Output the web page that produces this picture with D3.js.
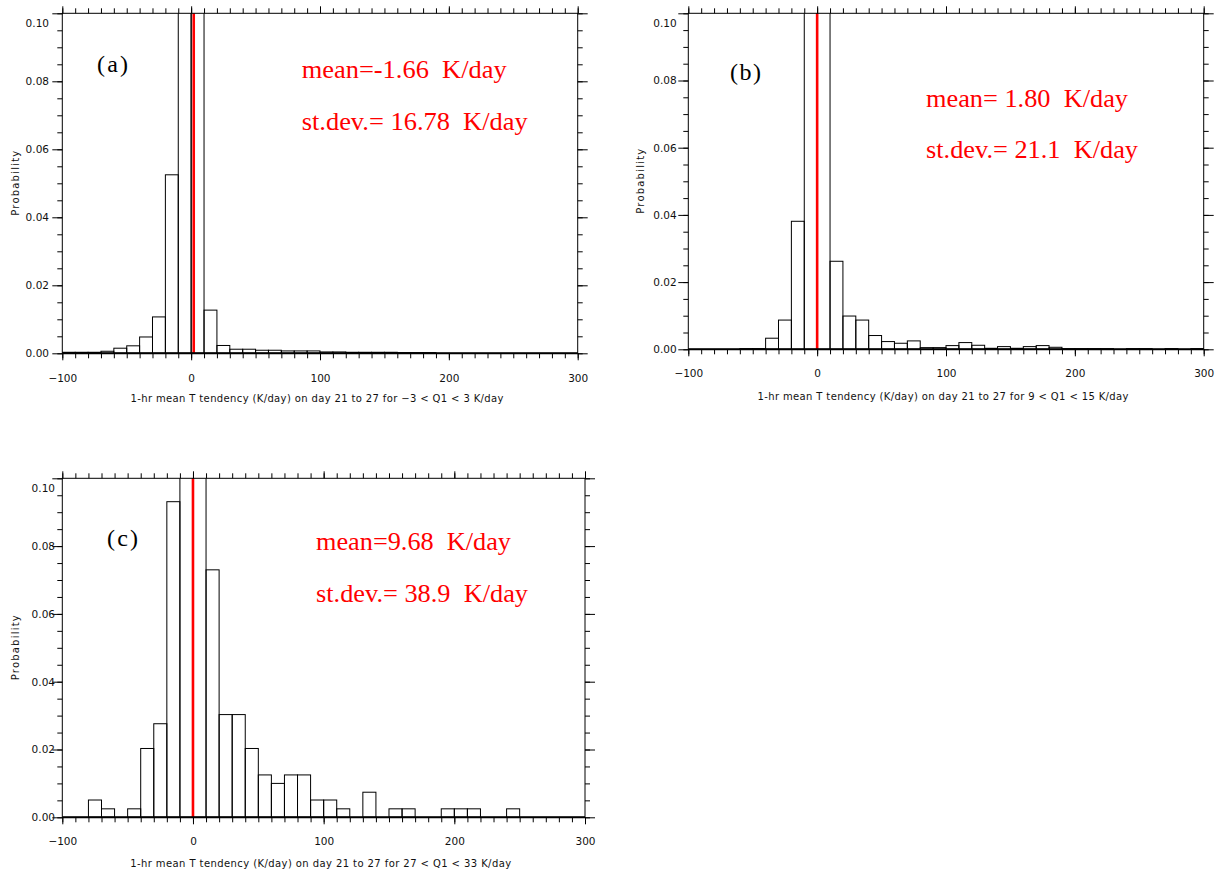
<!DOCTYPE html>
<html lang="en">
<head>
<meta charset="UTF-8">
<title>1-hr mean T tendency histograms</title>
<script src="https://d3js.org/d3.v7.min.js"></script>
<style>
    body { margin: 0; background: #fff; }
    svg { display: block; }
</style>
</head>
<body>
<div class="chart"></div>
<script>
// lower edge of each 10 K/day bin
const binStart = [-100,-90,-80,-70,-60,-50,-40,-30,-20,-10,0,10,20,30,40,50,60,70,80,90,
                  100,110,120,130,140,150,160,170,180,190,200,210,220,230,240,250,260,270,280,290];
// probabilities (the two central bins are off the top of each panel)
const probA = [0.0003,0.0003,0.0003,0.0006,0.0015,0.0022,0.0048,0.0107,0.0525,0.47,
               0.43,0.0127,0.0023,0.0012,0.0012,0.0009,0.0009,0.0007,0.0007,0.0007,
               0.0004,0.0004,0.0003,0.0003,0.0003,0.0003,0.0002,0.0002,0.0002,0,
               0,0,0,0,0,0,0,0,0,0];
const probB = [0,0,0,0,0.0002,0.0002,0.0033,0.0087,0.0381,0.44,
               0.45,0.0262,0.0099,0.0087,0.0041,0.0023,0.0018,0.0025,0.0005,0.0005,
               0.0011,0.0020,0.0012,0.0003,0.0008,0.0003,0.0008,0.0011,0.0006,0.0002,
               0.0002,0.0002,0.0002,0,0.0002,0.0002,0,0.0002,0,0.0002];
const probC = [0,0,0.0051,0.0025,0,0.0025,0.0203,0.0276,0.0931,0.31,
               0.30,0.0730,0.0303,0.0303,0.0203,0.0125,0.0100,0.0125,0.0125,0.0051,
               0.0051,0.0025,0,0.0074,0,0.0025,0.0025,0,0,0.0025,
               0.0025,0.0025,0,0,0.0025,0,0,0,0,0];
const xTicks = [-100,0,100,200,300];
const yTicks = [0,0.02,0.04,0.06,0.08,0.10];
const tags = ['(a)','(b)','(c)'];
const meanTxt = ['mean=-1.66  K/day','mean= 1.80  K/day','mean=9.68  K/day'];
const sdTxt = ['st.dev.= 16.78  K/day','st.dev.= 21.1  K/day','st.dev.= 38.9  K/day'];
const q1Range = ['\u22123 < Q1 < 3','9 < Q1 < 15','27 < Q1 < 33'];
const meanLine = [2,0,0];

const svg = d3.select('.chart').append('svg').attr('width',1220).attr('height',872);

// frame and text placement of each panel
const panels = [
    {x0:62.3, x1:577.7, y0:13.3, y1:353.3, yGap:13.3, xPad:14, titleY:398, titleW:373, probX:15,
     tag:[97,72], stat:[301.7,78.3,130], statW:[205,226]},
    {x0:688.3, x1:1203.7, y0:13.3, y1:349.3, yGap:11.6, xPad:13, titleY:396, titleW:371, probX:640.7,
     tag:[730,80], stat:[926,106.7,158.3], statW:[202,212]},
    {x0:62.3, x1:585, y0:478.3, y1:817.3, yGap:7.3, xPad:13, titleY:863, titleW:381, probX:15,
     tag:[107,546], stat:[316,550,601.7], statW:[195,212]}
];

[probA, probB, probC].forEach((vals,i) => drawPanel(panels[i], vals, i));

function styleTicks(g){
    g.select('.domain').remove();
    g.selectAll('.tick line').attr('stroke','#000');
    g.selectAll('.tick text')
        .attr('font-family','DejaVu Sans, sans-serif')
        .attr('font-size',10.5)
        .attr('fill','#111');
}

function drawPanel(p, vals, i){
    let x = d3.scaleLinear().domain([-100,300]).range([p.x0,p.x1]),
        y = d3.scaleLinear().domain([0,0.1]).range([p.y1,p.y0]);

    svg.append('clipPath').attr('id','clip'+i).append('rect')
        .attr('x',p.x0).attr('y',p.y0)
        .attr('width',p.x1-p.x0).attr('height',p.y1-p.y0);

    // histogram boxes
    let bins = binStart.map((s,k) => ({s:s, v:vals[k]})).filter(d => d.v > 0);
    svg.append('g').attr('clip-path','url(#clip'+i+')')
        .selectAll('rect')
        .data(bins)
        .enter()
        .append('rect')
        .attr('x', d => x(d.s))
        .attr('y', d => y(d.v))
        .attr('width', d => x(d.s+10)-x(d.s))
        .attr('height', d => y(0)-y(d.v))
        .attr('fill','none')
        .attr('stroke','#000')
        .attr('stroke-width',1);

    // mean line
    svg.append('line')
        .attr('x1',x(meanLine[i])).attr('x2',x(meanLine[i]))
        .attr('y1',y(0)).attr('y2',y(0.1))
        .attr('stroke','#ff0000').attr('stroke-width',2.6);

    let minorX = d3.range(-100,301,10),
        minorY = d3.range(0,0.1001,0.005);

    // bottom
    svg.append('g').attr('transform','translate(0,'+p.y1+')')
        .call(d3.axisBottom(x).tickValues(minorX).tickSize(5).tickFormat(''))
        .call(styleTicks);
    svg.append('g').attr('transform','translate(0,'+p.y1+')')
        .call(d3.axisBottom(x).tickValues(xTicks).tickSize(7).tickPadding(p.xPad).tickFormat(d3.format('d')))
        .call(styleTicks);
    // top
    svg.append('g').attr('transform','translate(0,'+p.y0+')')
        .call(d3.axisTop(x).tickValues(minorX).tickSize(5).tickFormat(''))
        .call(styleTicks);
    svg.append('g').attr('transform','translate(0,'+p.y0+')')
        .call(d3.axisTop(x).tickValues(xTicks).tickSize(7).tickFormat(''))
        .call(styleTicks);
    // left
    svg.append('g').attr('transform','translate('+p.x0+',0)')
        .call(d3.axisLeft(y).tickValues(minorY).tickSize(5).tickFormat(''))
        .call(styleTicks);
    let yl = svg.append('g').attr('transform','translate('+p.x0+',0)')
        .call(d3.axisLeft(y).tickValues(yTicks).tickSize(10).tickPadding(p.yGap-10).tickFormat(d3.format('.2f')))
        .call(styleTicks);
    yl.selectAll('.tick text').filter(d => d === 0.1).attr('dy','1.27em');
    // right
    svg.append('g').attr('transform','translate('+p.x1+',0)')
        .call(d3.axisRight(y).tickValues(minorY).tickSize(5).tickFormat(''))
        .call(styleTicks);
    svg.append('g').attr('transform','translate('+p.x1+',0)')
        .call(d3.axisRight(y).tickValues(yTicks).tickSize(10).tickFormat(''))
        .call(styleTicks);

    svg.append('rect')
        .attr('x',p.x0).attr('y',p.y0)
        .attr('width',p.x1-p.x0).attr('height',p.y1-p.y0)
        .attr('fill','none').attr('stroke','#000').attr('stroke-width',1);
    svg.append('line')
        .attr('x1',p.x0).attr('x2',p.x1).attr('y1',p.y1).attr('y2',p.y1)
        .attr('stroke','#000').attr('stroke-width',2);

    // axis titles
    svg.append('text')
        .attr('x',(p.x0+p.x1)/2-3).attr('y',p.titleY)
        .attr('dy','0.35em')
        .attr('text-anchor','middle')
        .attr('font-family','DejaVu Sans, sans-serif').attr('font-size',10)
        .attr('fill','#111')
        .attr('textLength',p.titleW).attr('lengthAdjust','spacing')
        .text('1-hr mean T tendency (K/day) on day 21 to 27 for '+q1Range[i]+' K/day');
    svg.append('text')
        .attr('transform','translate('+p.probX+','+((p.y0+p.y1)/2)+') rotate(-90)')
        .attr('dy','0.35em')
        .attr('text-anchor','middle')
        .attr('font-family','DejaVu Sans, sans-serif').attr('font-size',10)
        .attr('fill','#111')
        .attr('textLength',65).attr('lengthAdjust','spacing')
        .text('Probability');

    // panel tag and statistics
    svg.append('text')
        .attr('x',p.tag[0]).attr('y',p.tag[1])
        .attr('font-family','Liberation Serif, Times New Roman, serif').attr('font-size',24)
        .attr('textLength',31).attr('lengthAdjust','spacing')
        .text(tags[i]);
    [meanTxt[i], sdTxt[i]].forEach((t,k) => {
        svg.append('text')
            .attr('x',p.stat[0]).attr('y',p.stat[k+1])
            .attr('font-family','Liberation Serif, Times New Roman, serif').attr('font-size',25)
            .attr('fill','#ff0000')
            .style('white-space','pre')
            .attr('textLength',p.statW[k]).attr('lengthAdjust','spacingAndGlyphs')
            .text(t);
    });
}
</script>
</body>
</html>
